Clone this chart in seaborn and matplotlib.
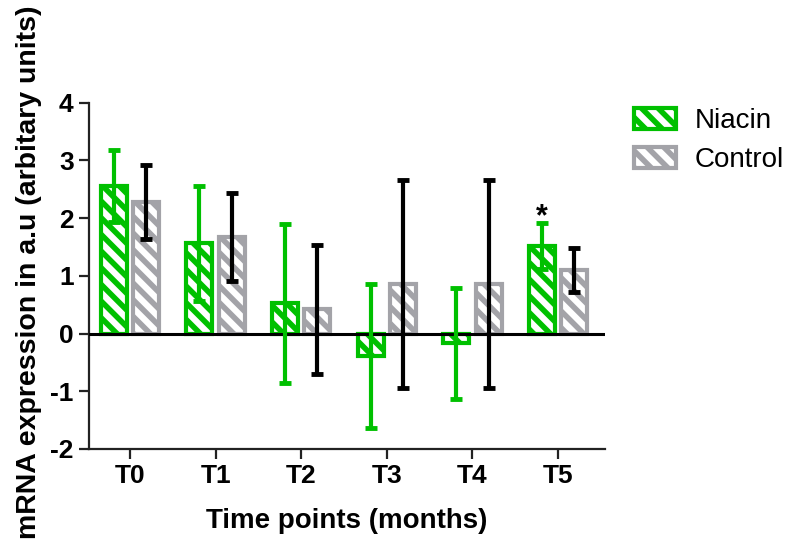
import matplotlib
matplotlib.use("Agg")
import matplotlib.pyplot as plt
import matplotlib.patches as mpatches
import seaborn as sns
import pandas as pd
import numpy as np

# ---- data ----
time_points = ["T0", "T1", "T2", "T3", "T4", "T5"]
groups = ["Niacin", "Control"]
niacin_mean = [2.55, 1.56, 0.52, -0.39, -0.17, 1.52]
niacin_sd = [0.62, 1.00, 1.37, 1.24, 0.96, 0.40]
control_mean = [2.27, 1.67, 0.42, 0.86, 0.86, 1.10]
control_sd = [0.64, 0.76, 1.12, 1.80, 1.80, 0.38]
y_ticks = [-2, -1, 0, 1, 2, 3, 4]
significant = {"Niacin": ["T5"]}

green = "#00C000"
grey = "#A3A3A8"
err_colors = {"Niacin": green, "Control": "black"}
fill_colors = {"Niacin": green, "Control": grey}

df = pd.DataFrame({
    "time": time_points * 2,
    "group": ["Niacin"] * len(time_points) + ["Control"] * len(time_points),
    "value": niacin_mean + control_mean,
    "sd": niacin_sd + control_sd,
})

sns.set_theme(style="white")
plt.rcParams["font.family"] = ["Liberation Sans", "DejaVu Sans"]
plt.rcParams["hatch.linewidth"] = 4.0
plt.rcParams["text.color"] = "black"

fig = plt.figure(figsize=(7.88, 5.46), dpi=100)
W, H = 788, 546
ax = fig.add_axes([89 / W, (H - 449) / H, (605 - 89) / W, (449 - 102.5) / H])

sns.barplot(data=df, x="time", y="value", hue="group", order=time_points,
            hue_order=groups, palette=fill_colors, errorbar=None,
            width=0.76, gap=0.2, ax=ax, legend=False, zorder=2)

for cont, g in zip(ax.containers, groups):
    col = fill_colors[g]
    for bar in cont:
        bar.set_facecolor("white")
        bar.set_edgecolor(col)
        bar.set_hatch("\\\\")
        bar.set_linewidth(3)
    sub = df[df["group"] == g].set_index("time").loc[time_points]
    xs = [b.get_x() + b.get_width() / 2 for b in cont]
    ax.errorbar(xs, sub["value"], yerr=sub["sd"], fmt="none",
                ecolor=err_colors[g], elinewidth=3, capsize=4,
                capthick=3.5, zorder=5)
    for t in significant.get(g, []):
        i = time_points.index(t)
        top = sub["value"].iloc[i] + sub["sd"].iloc[i]
        ax.text(xs[i], top - 0.05, "*", ha="center", va="baseline",
                fontsize=22, fontweight="bold", color="black", zorder=6)

ax.axhline(0, color="black", lw=2.2, zorder=4)

ax.set_xlim(-0.479, 5.549)
ax.set_ylim(-2, 4)
ax.set_yticks(y_ticks)
ax.set_yticklabels([str(v) for v in y_ticks])
for side in ["top", "right"]:
    ax.spines[side].set_visible(False)
for side in ["left", "bottom"]:
    ax.spines[side].set_linewidth(1.6)
    ax.spines[side].set_color("#222222")
ax.tick_params(axis="both", direction="out", length=7, width=1.6,
               colors="#222222", labelcolor="black", labelsize=19, pad=4)
ax.tick_params(axis="both", which="both", left=True, bottom=True)
for lab in ax.get_xticklabels() + ax.get_yticklabels():
    lab.set_fontweight("bold")

ax.set_xlabel("Time points (months)", fontsize=20, fontweight="bold", color="black")
ax.set_ylabel("mRNA expression in a.u (arbitary units)", fontsize=20.5,
              fontweight="bold", color="black")
ax.xaxis.set_label_coords((347 - 89) / 516, (449 - 508) / 346.5)
ax.yaxis.set_label_coords((42 - 89) / 516, (449 - 272) / 346.5)
ax.grid(False)

handles = [mpatches.Patch(facecolor="white", edgecolor=fill_colors[g],
                          hatch="\\\\", linewidth=3, label=g) for g in groups]
leg = fig.legend(handles=handles, loc="upper left",
                 bbox_to_anchor=(634 / W, 1 - 108 / H), frameon=False,
                 fontsize=20, handlelength=1.5, handleheight=0.8,
                 handletextpad=0.7, labelspacing=0.45, borderpad=0,
                 borderaxespad=0)
for t in leg.get_texts():
    t.set_color("black")

fig.savefig("out.png", dpi=100)
